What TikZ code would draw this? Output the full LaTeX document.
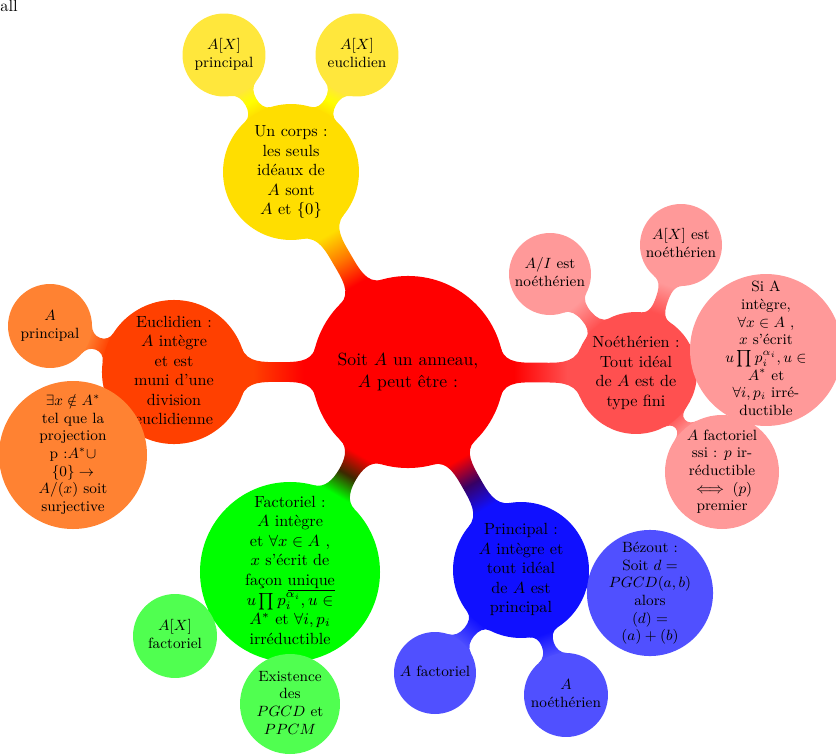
\RequirePackage{fix-cm}
\documentclass[tikz,border=0pt]{standalone}
\usepackage{fontspec}
\usetikzlibrary{calc,backgrounds}
\definecolor{cRoot}{RGB}{255,0,0}
\definecolor{cY1}{RGB}{255,222,0}
\definecolor{cY2}{RGB}{255,231,60}
\definecolor{cN1}{RGB}{255,80,80}
\definecolor{cN2}{RGB}{255,153,153}
\definecolor{cP1}{RGB}{16,16,255}
\definecolor{cP2}{RGB}{80,80,255}
\definecolor{cF1}{RGB}{0,255,0}
\definecolor{cF2}{RGB}{80,255,80}
\definecolor{cE1}{RGB}{255,64,0}
\definecolor{cE2}{RGB}{255,130,50}
\definecolor{mRY}{RGB}{255,120,0}
\definecolor{mRN}{RGB}{255,40,40}
\definecolor{mRP}{RGB}{55,0,100}
\definecolor{mRF}{RGB}{60,40,0}
\definecolor{mRE}{RGB}{255,32,0}
\definecolor{mY}{RGB}{255,255,0}
\colorlet{barcA}{red}\colorlet{barcM}{red}\colorlet{barcB}{red}
\pgfdeclareverticalshading[barcA,barcM,barcB]{barshade}{100bp}{color(0bp)=(barcA); color(33bp)=(barcA); color(50bp)=(barcM); color(67bp)=(barcB); color(100bp)=(barcB)}
\newcommand{\ct}[1]{\smash{\makebox[0pt]{\raisebox{-0.25em}{\begin{tabular}{@{}c@{}}#1\end{tabular}}}}}
% connector bar between two circle nodes: #1 from, #2 to, #3 half width (pt), #4 flare factor, #5 #6 #7 colours (start, middle, end)
\newcommand{\cbar}[7]{%
  \colorlet{barcA}{#5}\colorlet{barcM}{#6}\colorlet{barcB}{#7}%
  \path let \p1=(#1.center), \p2=(#2.center) in
    \pgfextra{\pgfmathsetmacro{\barsh}{scalar(atan2(\y2-\y1,\x2-\x1))-90}\global\let\barsh\barsh};
  \shade[shading=barshade, shading angle=\barsh]
    let \p1=(#1.center), \p2=(#2.center), \p3=(#1.east), \p4=(#2.east),
        \n1={scalar(atan2(\y2-\y1,\x2-\x1))}, \n2={scalar(veclen(\x2-\x1,\y2-\y1))},
        \n3={scalar(\x3-\x1)}, \n4={scalar(\x4-\x2)},
        \n5={scalar(asin(min(1,#4*#3/\n3)))}, \n6={scalar(asin(min(1,#4*#3/\n4)))},
        \n7={scalar((\n2+\n3-\n4)/2)}
    in ($(\p1)+(\n1+\n5:\n3 pt)$)
       to[out=\n1+\n5-90, in=\n1+180] ($(\p1)+(\n1:\n7 pt)+(\n1+90:#3 pt)$)
       to[out=\n1, in=\n1-90-\n6] ($(\p2)+(\n1+180-\n6:\n4 pt)$)
       -- ($(\p2)+(\n1+180+\n6:\n4 pt)$)
       to[out=\n1+90+\n6, in=\n1] ($(\p1)+(\n1:\n7 pt)+(\n1-90:#3 pt)$)
       to[out=\n1+180, in=\n1-\n5+90] ($(\p1)+(\n1-\n5:\n3 pt)$) -- cycle;
}
\begin{document}
\begin{tikzpicture}[x=0.60606pt, y=-0.60606pt,
  cc/.style 2 args={circle, inner sep=0pt, outer sep=0pt, minimum size=#1, fill=#2, text=black},
  f0/.style={font=\fontsize{10.7}{13.3}\selectfont},
  f1/.style={font=\fontsize{9.8}{11.8}\selectfont},
  f2/.style={font=\fontsize{9}{10.7}\selectfont}]
\useasboundingbox (0,0) rectangle (836,755);

\node[anchor=north west, inner sep=0pt, font=\fontsize{10}{12}\selectfont] (allnote) at (0,0) {all};

% root
\node[cc={116.4pt}{cRoot}, f0] (root) at (408,372) {\ct{Soit $A$ un anneau,\\ $A$ peut être :}};

% level 1
\node[cc={82.4pt}{cY1}, f1] (corps) at (291,172) {\ct{Un corps :\\ les seuls\\ idéaux de\\ $A$ sont\\ $A$ et $\{0\}$}};
\node[cc={73.9pt}{cN1}, f1] (noeth) at (636,373) {\ct{Noéthérien :\\ Tout idéal\\ de $A$ est de\\ type fini}};
\node[cc={82.4pt}{cP1}, f1] (princ) at (521,570) {\ct{Principal :\\ $A$ intègre et\\ tout idéal\\ de $A$ est\\ principal}};
\node[cc={109.1pt}{cF1}, f1] (fact) at (290,572) {\ct{Factoriel :\\ $A$ intègre\\ et $\forall x \in A$ ,\\ $x$ s'écrit de\\ façon \underline{unique}\\ $u\prod p_i^{\alpha_i}, u \in$\\ $A^*$ et $\forall i, p_i$\\ irréductible}};
\node[cc={87.3pt}{cE1}, f1] (eucl) at (174,372) {\ct{Euclidien :\\ $A$ intègre\\ et est\\ muni d'une\\ division\\ euclidienne}};

% level 2 : corps
\node[cc={50.3pt}{cY2}, f2] (axp) at (224,55) {\ct{$A[X]$\\ principal}};
\node[cc={50.3pt}{cY2}, f2] (axe) at (357,55) {\ct{$A[X]$\\ euclidien}};

% level 2 : noetherien
\node[cc={49.7pt}{cN2}, f2] (ai) at (550,274) {\ct{$A/I$ est\\ noéthérien}};
\node[cc={49.7pt}{cN2}, f2] (axn) at (681,245) {\ct{$A[X]$ est\\ noéthérien}};
\node[cc={92.1pt}{cN2}, f2] (sia) at (766,350) {\ct{Si A\\ intègre,\\ $\forall x \in A$ ,\\ $x$ s'écrit\\ $u\prod p_i^{\alpha_i}, u \in$\\ $A^*$ et\\ $\forall i, p_i$ irré-\\ ductible}};
\node[cc={69.1pt}{cN2}, f2] (afs) at (722,472) {\ct{$A$ factoriel\\ ssi : $p$ ir-\\ réductible\\ $\iff (p)$\\ premier}};

% level 2 : principal
\node[cc={76.4pt}{cP2}, f2] (bez) at (650,593) {\ct{Bézout :\\ Soit $d =$\\ $PGCD(a,b)$\\ alors\\ $(d) =$\\ $(a)+(b)$}};
\node[cc={49.7pt}{cP2}, f2] (afb) at (435,673) {\ct{$A$ factoriel}};
\node[cc={50.9pt}{cP2}, f2] (anb) at (566,695) {\ct{$A$\\ noéthérien}};

% level 2 : factoriel
\node[cc={50.9pt}{cF2}, f2] (axf) at (175,636) {\ct{$A[X]$\\ factoriel}};
\node[cc={60.6pt}{cF2}, f2] (exist) at (290,704) {\ct{Existence\\ des\\ $PGCD$ et\\ $PPCM$}};

% level 2 : euclidien
\node[cc={50.9pt}{cE2}, f2] (aprin) at (50,326) {\ct{$A$\\ principal}};
\node[cc={89.7pt}{cE2}, f2] (exx) at (73,455) {\ct{$\exists x \notin A^*$\\ tel que la\\ projection\\ p :$A^* \cup$\\ $\{0\} \to$\\ $A/(x)$ soit\\ surjective}};

\begin{pgfonlayer}{background}
\cbar{root}{corps}{6}{2.4}{cRoot}{mRY}{cY1}
\cbar{root}{noeth}{6}{2.4}{cRoot}{mRN}{cN1}
\cbar{root}{princ}{6}{2.4}{cRoot}{mRP}{cP1}
\cbar{root}{fact}{6}{2.4}{cRoot}{mRF}{cF1}
\cbar{root}{eucl}{6}{2.4}{cRoot}{mRE}{cE1}
\cbar{corps}{axp}{3.8}{2.4}{cY1}{mY}{cY2}
\cbar{corps}{axe}{3.8}{2.4}{cY1}{mY}{cY2}
\cbar{noeth}{ai}{3.8}{2.4}{cN1}{cN1!50!cN2}{cN2}
\cbar{noeth}{axn}{3.8}{2.4}{cN1}{cN1!50!cN2}{cN2}
\cbar{noeth}{sia}{3.8}{2.4}{cN1}{cN1!50!cN2}{cN2}
\cbar{noeth}{afs}{3.8}{2.4}{cN1}{cN1!50!cN2}{cN2}
\cbar{princ}{bez}{3.8}{2.4}{cP1}{cP1!50!cP2}{cP2}
\cbar{princ}{afb}{3.8}{2.4}{cP1}{cP1!50!cP2}{cP2}
\cbar{princ}{anb}{3.8}{2.4}{cP1}{cP1!50!cP2}{cP2}
\cbar{fact}{axf}{3.8}{2.4}{cF1}{cF1!50!cF2}{cF2}
\cbar{fact}{exist}{3.8}{2.4}{cF1}{cF1!50!cF2}{cF2}
\cbar{eucl}{aprin}{3.8}{2.4}{cE1}{cE1!50!cE2}{cE2}
\cbar{eucl}{exx}{3.8}{2.4}{cE1}{cE1!50!cE2}{cE2}
\end{pgfonlayer}
\end{tikzpicture}
\end{document}
